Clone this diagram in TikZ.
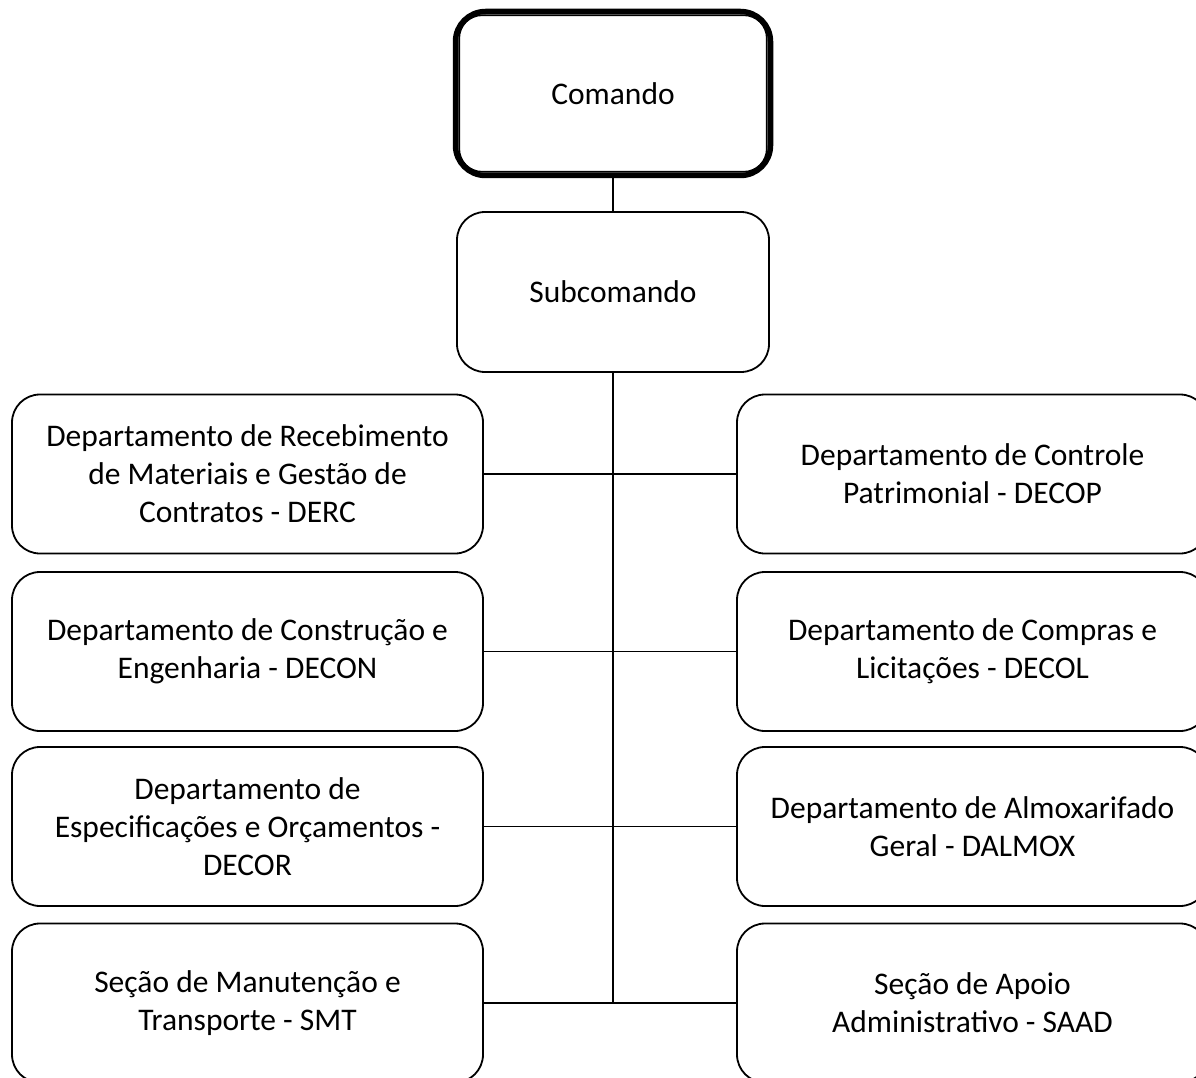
\documentclass[tikz,border=0pt]{standalone}
\usepackage{fontspec}
\setmainfont{Carlito}
\begin{document}
\begin{tikzpicture}[x=1pt,y=-1pt,
  box/.style={draw=black,line width=1.8pt,rounded corners=28pt,align=center,
    minimum width=471pt,minimum height=159pt,inner sep=0pt,
    font=\fontsize{31.5}{38}\selectfont},
  link/.style={draw=black,line width=1.3pt}]
\useasboundingbox (0,0) rectangle (1196,1078);
\clip (0,0) rectangle (1196,1078);
% Comando
\node[draw=black,line width=5.5pt,rounded corners=30pt,minimum width=315pt,minimum height=164pt,
  inner sep=0pt,font=\fontsize{31.5}{38}\selectfont] (com) at (613,93.5) {\raisebox{-2pt}{Comando}};
\draw[line width=1.6pt,rounded corners=23pt] ([shift={(6.5,6.5)}]com.north west) rectangle ([shift={(-6.5,-6.5)}]com.south east);
% Subcomando
\node[box,minimum width=312pt,minimum height=160pt] (sub) at (613,292) {Subcomando};
% left column
\node[box] (l1) at (247.5,474) {Departamento de Recebimento\\de Materiais e Gestão de\\Contratos - DERC};
\node[box] (l2) at (247.5,651.5) {Departamento de Construção e\\Engenharia - DECON};
\node[box] (l3) at (247.5,826.5) {Departamento de\\Especificações e Orçamentos -\\DECOR};
\node[box] (l4) at (247.5,1003) {Seção de Manutenção e\\Transporte - SMT};
% right column
\node[box] (r1) at (972.5,474) {Departamento de Controle\\Patrimonial - DECOP};
\node[box] (r2) at (972.5,651.5) {Departamento de Compras e\\Licitações - DECOL};
\node[box] (r3) at (972.5,826.5) {Departamento de Almoxarifado\\Geral - DALMOX};
\node[box] (r4) at (972.5,1003) {Seção de Apoio\\Administrativo - SAAD};
% connectors
\coordinate (trunkend) at (613,1002);
\draw[link] (com.south) -- (sub.north);
\draw[link] (sub.south) -- (trunkend);
\draw[link] (l1.east) -- (r1.west);
\draw[link] (l2.east) -- (r2.west);
\draw[link] (l3.east) -- (r3.west);
\draw[link] (l4.east) -- (r4.west);
\end{tikzpicture}
\end{document}
